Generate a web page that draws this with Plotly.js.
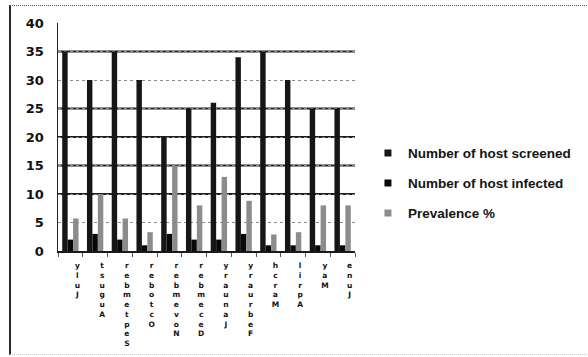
<!DOCTYPE html>
<html>
<head>
<meta charset="utf-8">
<script src="https://cdn.plot.ly/plotly-3.0.1.min.js"></script>
<style>
  html, body { margin: 0; padding: 0; background: #fff; }
  #wrap { position: relative; width: 588px; height: 357px; overflow: hidden; }
  #chart { position: absolute; left: 0; top: 0; width: 588px; height: 357px; }
  #frame {
    position: absolute; left: 9px; top: 5px; width: 590px; height: 348px;
    border-left: 2px solid #2a2a2a;
    border-top: 1px dotted #555;
    border-bottom: 1px dotted #c8c8c8;
    pointer-events: none;
  }
</style>
</head>
<body>
<div id="wrap">
  <div id="chart"></div>
  <div id="frame"></div>
</div>
<script>
// Monthly host survey
const months = ['July', 'August', 'September', 'October', 'November', 'December',
                'January', 'February', 'March', 'April', 'May', 'June'];
const hostsScreened = [35, 30, 35, 30, 20, 25, 26, 34, 35, 30, 25, 25];
const hostsInfected = [2, 3, 2, 1, 3, 2, 2, 3, 1, 1, 1, 1];
const prevalence    = [5.7, 10, 5.7, 3.3, 15, 8, 13, 8.8, 2.9, 3.3, 8, 8];
const yTicks = [0, 5, 10, 15, 20, 25, 30, 35, 40];
const heavyGrid = [10, 15, 20, 25, 35];

const seriesNames = ['Number of host screened', 'Number of host infected', 'Prevalence %'];
const seriesColors = ['#161616', '#080808', '#8c8c8c'];

// Month names printed as stacked letters, last letter on top
const stackedLabel = m => m.split('').reverse().join('<br>');
const tickLabels = months.map(stackedLabel);

const values = [hostsScreened, hostsInfected, prevalence];
const bars = values.map((v, i) => ({
  type: 'bar',
  x: months,
  y: v,
  name: seriesNames[i],
  marker: { color: seriesColors[i], line: { width: 0 } },
  showlegend: false,
  hoverinfo: 'x+y+name'
}));

// Compact square swatches for the legend
const legendKeys = seriesNames.map((n, i) => ({
  type: 'scatter',
  mode: 'markers',
  x: [null],
  y: [null],
  name: n,
  legendgroup: 'g' + i,
  marker: { symbol: 'square', size: 7, color: seriesColors[i] },
  hoverinfo: 'skip'
}));

const shapes = heavyGrid.map(v => ({
  type: 'line', xref: 'paper', yref: 'y',
  x0: 0, x1: 1, y0: v, y1: v,
  line: { color: '#1e1e1e', width: 2 },
  layer: 'below'
}));

const layout = {
  width: 588,
  height: 357,
  margin: { l: 58, r: 212, t: 23, b: 106 },
  paper_bgcolor: '#ffffff',
  plot_bgcolor: '#ffffff',
  barmode: 'group',
  bargap: 0.34,
  bargroupgap: 0,
  showlegend: true,
  legend: {
    x: 1.0436, xanchor: 'left',
    y: 0.497, yanchor: 'top',
    tracegroupgap: 9.5,
    itemsizing: 'trace',
    font: { family: 'Liberation Sans, Arial, sans-serif', size: 13.5, color: '#141414', weight: 'bold' },
    bgcolor: 'rgba(0,0,0,0)'
  },
  xaxis: {
    type: 'category',
    categoryorder: 'array',
    categoryarray: months,
    tickmode: 'array',
    tickvals: months,
    ticktext: tickLabels,
    tickson: 'boundaries',
    ticks: 'outside',
    ticklen: 4,
    tickwidth: 1,
    tickcolor: '#555',
    ticklabelshift: 7,
    ticklabelstandoff: 6,
    tickangle: 0,
    showline: true,
    linecolor: '#1a1a1a',
    linewidth: 2,
    showgrid: false,
    zeroline: false,
    tickfont: { family: 'DejaVu Sans, sans-serif', size: 7.5, color: '#111', weight: 'bold' }
  },
  yaxis: {
    range: [0, 40],
    tickmode: 'array',
    tickvals: yTicks,
    ticktext: yTicks.map(String),
    ticks: '',
    ticklabelstandoff: 10,
    showline: true,
    linecolor: '#222',
    linewidth: 1.5,
    showgrid: true,
    gridcolor: '#8a8a8a',
    griddash: 'dot',
    gridwidth: 1,
    zeroline: false,
    tickfont: { family: 'DejaVu Sans, sans-serif', size: 13, color: '#111', weight: 'bold' }
  },
  shapes: shapes
};

Plotly.newPlot('chart', bars.concat(legendKeys), layout, { displayModeBar: false, staticPlot: true });
</script>
</body>
</html>
